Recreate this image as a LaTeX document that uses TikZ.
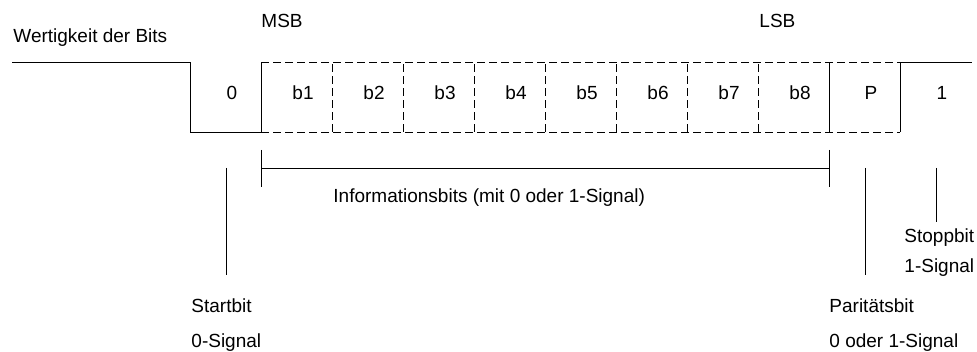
\documentclass[tikz,border=0pt]{standalone}
\usepackage{fontspec}
\setmainfont{Liberation Sans}
\tikzset{
  lbl/.style={anchor=base west, inner sep=0pt, font=\fontsize{19}{23}\selectfont},
  bitlbl/.style={anchor=base, inner sep=0pt, font=\fontsize{19}{23}\selectfont},
  dashline/.style={dash pattern=on 8pt off 4pt},
}
\begin{document}
\begin{tikzpicture}[x=1pt,y=1pt,line width=0.9pt]
        \useasboundingbox (0,0) rectangle (977,351);
        % Signalverlauf
        \draw (12,289) -- (190,289) -- (190,219) -- (261,219) -- (261,289);
        \draw[dashline] (261,289) -- (900,289);
        \draw[dashline] (261,219) -- (900,219);
        \foreach \x in {332,403,474,545,616,687,758} \draw[dashline] (\x,219) -- (\x,289);
        \draw (829,219) -- (829,289);
        \draw (900,219) -- (900,289) -- (972,289);
        % Bits
        \foreach \t [count=\i from 0] in {0,b1,b2,b3,b4,b5,b6,b7,b8,P,1}
          \node[bitlbl] (bit\i) at (232+71*\i,251) {\t};
        \node[lbl] (wert) at (13,308) {Wertigkeit der Bits};
        \node[lbl] (msb) at (261,323) {MSB};
        \node[lbl] (lsb) at (759,323) {LSB};
        % Informationsbits
        \coordinate (infoL) at (261,183);
        \coordinate (infoR) at (829,183);
        \draw (infoL) -- (infoR);
        \draw ([yshift=18pt]infoL) -- ([yshift=-19pt]infoL);
        \draw ([yshift=18pt]infoR) -- ([yshift=-19pt]infoR);
        \node[lbl] (info) at (333,148) {Informationsbits (mit 0 oder 1-Signal)};
        % Start-, Paritaets- und Stoppbit
        \coordinate (startptr) at (226,183);
        \coordinate (parptr) at (865,183);
        \coordinate (stopptr) at (936,183);
        \draw (startptr) -- ++(0,-107);
        \draw (parptr) -- ++(0,-107);
        \draw (stopptr) -- ++(0,-54);
        \node[lbl] (start) at (191,39) {Startbit};
        \node[lbl] (startsig) at (191,4) {0-Signal};
        \node[lbl] (par) at (829,39) {Paritätsbit};
        \node[lbl] (parsig) at (829,4) {0 oder 1-Signal};
        \node[lbl] (stop) at (904,108) {Stoppbit};
        \node[lbl] (stopsig) at (904,78) {1-Signal};
\end{tikzpicture}
\end{document}
